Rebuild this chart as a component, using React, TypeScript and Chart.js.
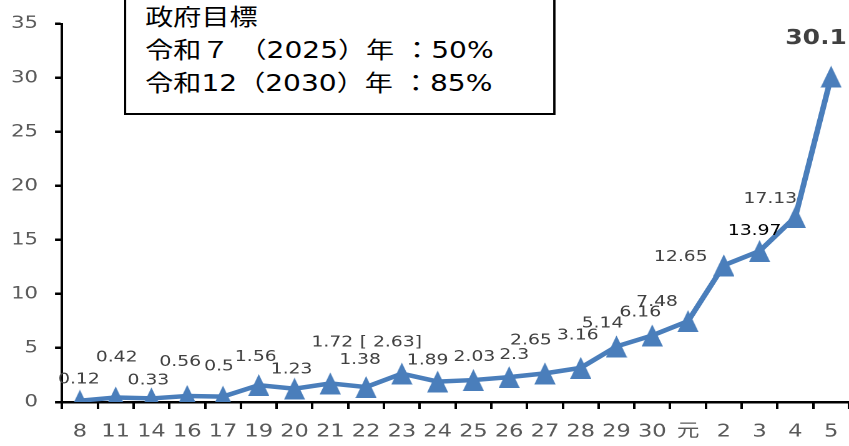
import React, { useEffect, useRef } from 'react';
import { Chart, registerables } from 'chart.js';

Chart.register(...registerables);

// ---- data ----
const categories = ['8', '11', '14', '16', '17', '19', '20', '21', '22', '23', '24', '25', '26', '27', '28', '29', '30', '元', '2', '3', '4', '5'];
const values = [0.12, 0.42, 0.33, 0.56, 0.5, 1.56, 1.23, 1.72, 1.38, 2.63, 1.89, 2.03, 2.3, 2.65, 3.16, 5.14, 6.16, 7.48, 12.65, 13.97, 17.13, 30.1];
const valueLabels = ['0.12', '0.42', '0.33', '0.56', '0.5', '1.56', '1.23', '1.72', '1.38', '[ 2.63]', '1.89', '2.03', '2.3', '2.65', '3.16', '5.14', '6.16', '7.48', '12.65', '13.97', '17.13', '30.1'];
const yMin = 0;
const yMax = 35;
const yStep = 5;
const goalTitle = '政府目標';
const goalLines = ['令和７ （2025）年 ：50%', '令和12（2030）年 ：85%'];

// ---- layout / style ----
const FULL_W = 849;
const FULL_H = 446;
const W = 680;
const S = FULL_W / W; // horizontal stretch of the original picture
const BLUE = '#4A7EBB';
const FONT = '"DejaVu Sans", "Noto Sans CJK JP", sans-serif';
// label placement relative to its point (reference pixels)
const LABEL_OFFSETS: [number, number][] = [
  [-1, -21], [1, -40], [-3, -18], [-7, -34], [-4, -30], [-3, -28], [-3, -19], [2, -41],
  [-6, -27], [-11, -31], [-10, -21], [1, -23], [5, -22], [-14, -33], [-3, -32], [-14, -23],
  [-12, -23], [-31, -19], [-43, -8], [-5, -20], [-25, -18], [-15, -38],
];

const labelPlugin = {
  id: 'valueLabels',
  afterDatasetsDraw(chart: any) {
    const meta = chart.getDatasetMeta(0);
    const ctx = chart.ctx as CanvasRenderingContext2D;
    ctx.save();
    ctx.textAlign = 'center';
    ctx.textBaseline = 'middle';
    meta.data.forEach((pt: any, i: number) => {
      const [dx, dy] = LABEL_OFFSETS[i] || [0, -20];
      const last = i === meta.data.length - 1;
      ctx.font = last ? `bold 20px ${FONT}` : `15px ${FONT}`;
      ctx.fillStyle = last ? '#404040' : i === 19 ? '#000000' : '#404040';
      ctx.fillText(valueLabels[i], pt.x + dx / S, pt.y + dy);
    });
    ctx.restore();
  },
};

function makeTriangle(): HTMLImageElement {
  const w = 17.5;
  const h = 22;
  const k = 4;
  const c = document.createElement('canvas');
  c.width = Math.round(w * k);
  c.height = Math.round(h * k);
  const g = c.getContext('2d')!;
  g.fillStyle = BLUE;
  g.beginPath();
  g.moveTo(c.width / 2, 0);
  g.lineTo(c.width, c.height);
  g.lineTo(0, c.height);
  g.closePath();
  g.fill();
  const img = new Image(w, h);
  img.src = c.toDataURL();
  return img;
}

export default function App() {
  const ref = useRef<HTMLCanvasElement>(null);

  useEffect(() => {
    const tri = makeTriangle();
    const chart = new Chart(ref.current!, {
      type: 'line',
      data: {
        labels: categories,
        datasets: [
          {
            data: values,
            borderColor: BLUE,
            backgroundColor: BLUE,
            borderWidth: 4.5,
            pointStyle: tri as any,
            pointRadius: 10,
            tension: 0,
          },
        ],
      },
      options: {
        animation: false,
        responsive: true,
        maintainAspectRatio: false,
        devicePixelRatio: 2,
        layout: { autoPadding: false, padding: { top: 22, left: 0, right: 0, bottom: 0 } },
        plugins: { legend: { display: false }, tooltip: { enabled: false } },
        scales: {
          x: {
            type: 'category',
            offset: true,
            grid: {
              offset: true,
              drawOnChartArea: false,
              drawTicks: true,
              tickLength: 7,
              tickColor: '#000',
              lineWidth: 2.5 / S,
            },
            border: { display: true, color: '#000', width: 2.5 },
            ticks: {
              autoSkip: false,
              maxRotation: 0,
              padding: 12,
              color: '#595959',
              font: { family: FONT, size: 18 },
            },
            afterFit(scale: any) {
              scale.height = FULL_H - 402;
              scale.paddingLeft = 0;
              scale.paddingRight = 0;
            },
          },
          y: {
            min: yMin,
            max: yMax,
            grid: {
              drawOnChartArea: false,
              drawTicks: true,
              tickLength: 7 / S,
              tickColor: '#000',
              lineWidth: 2.5,
            },
            border: { display: true, color: '#000', width: 2.5 / S },
            ticks: {
              stepSize: yStep,
              padding: 13.6,
              color: '#595959',
              font: { family: FONT, size: 17 },
            },
            afterFit(scale: any) {
              scale.width = 62 / S;
            },
          },
        },
      },
      plugins: [labelPlugin],
    });
    tri.onload = () => chart.update('none');
    return () => chart.destroy();
  }, []);

  return (
    <div style={{ position: 'absolute', left: 0, top: 0, width: FULL_W, height: FULL_H, overflow: 'hidden', background: '#fff' }}>
      <div style={{ position: 'absolute', left: 0, top: 0, width: W, height: FULL_H, transform: `scaleX(${S})`, transformOrigin: '0 0' }}>
        <canvas ref={ref} />
        <div
          style={{
            position: 'absolute',
            left: 124 / S,
            top: -3,
            width: (556 - 124) / S,
            height: 118,
            boxSizing: 'border-box',
            border: '2px solid #000',
            background: '#fff',
            paddingLeft: 15,
            paddingTop: 2,
            fontFamily: FONT,
            fontSize: 22.5,
            lineHeight: '33px',
            color: '#000',
            whiteSpace: 'pre',
          }}
        >
          <div>{goalTitle}</div>
          {goalLines.map((l) => (
            <div key={l}>{l}</div>
          ))}
        </div>
      </div>
    </div>
  );
}
